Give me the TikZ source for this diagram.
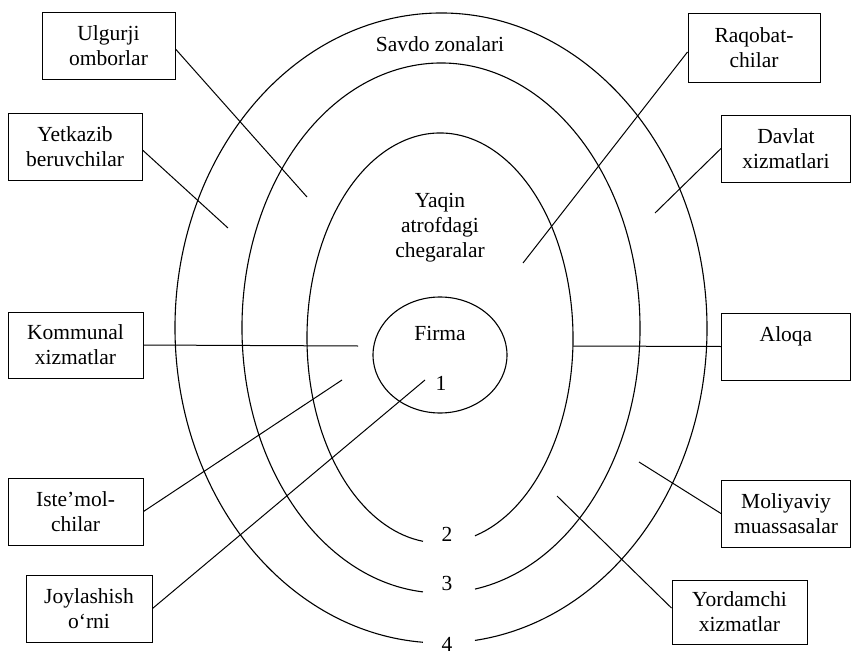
\documentclass[tikz,border=0pt]{standalone}
\usepackage{fontspec}
\setmainfont{Liberation Serif}
\usetikzlibrary{shapes.geometric}
\begin{document}
\begin{tikzpicture}[x=1pt,y=-1pt,
  txt/.style={font=\fontsize{21.5}{25}\selectfont},
  box/.style={draw, line width=1pt, minimum width=#1, minimum height=67pt,
    inner sep=0pt, align=center, txt},
  box/.default=134pt,
  lbl/.style={txt, align=center, inner sep=0pt},
  conn/.style={line width=1pt},
  ring/.style={line width=1.1pt}]
\useasboundingbox (0,0) rectangle (852,653);

% rings (zones)
\draw[ring] (441,328) ++(-82.66:266pt and 315pt)
  arc[start angle=-82.66, end angle=266.1, x radius=266pt, y radius=315pt];
\draw[ring] (441,328) ++(-80.16:199pt and 265pt)
  arc[start angle=-80.16, end angle=264.8, x radius=199pt, y radius=265pt];
\draw[ring] (440,338) ++(-74.74:133pt and 205pt)
  arc[start angle=-74.74, end angle=262.66, x radius=133pt, y radius=205pt];
\node[draw, ellipse, line width=1.1pt, minimum width=134pt, minimum height=116pt,
  inner sep=0pt] (firma) at (440,355) {};

% labels inside
\node[lbl] (savdo) at (440,44) {Savdo zonalari};
\node[lbl] (yaqin) at (440,227.5) {Yaqin\\atrofdagi\\chegaralar};
\node[lbl, anchor=base] (firmat) at (440,340) {Firma};
\node[lbl, anchor=base] (n1) at (441,390) {1};
\node[lbl, anchor=base] (n2) at (447,541) {2};
\node[lbl, anchor=base] (n3) at (447,590) {3};
\node[lbl, anchor=base] (n4) at (447,651) {4};

% boxes left
\node[box=133pt] (ulg) at (108.5,45.5) {Ulgurji\\omborlar};
\node[box=134pt] (yet) at (75,146.5) {Yetkazib\\beruvchilar};
\node[box=135pt, minimum height=66pt] (kom) at (75.5,345) {Kommunal\\xizmatlar};
\node[box=135pt] (ist) at (75.5,511.5) {Iste’mol-\\chilar};
\node[box=126pt] (joy) at (89,608.5) {Joylashish\\o‘rni};
% boxes right
\node[box=132pt, minimum height=69pt] (raq) at (754,47.5) {Raqobat-\\chilar};
\node[box=129pt] (dav) at (786,148.5) {Davlat\\xizmatlari};
\node[box=129pt] (alo) at (786,346.5) {Aloqa\\\phantom{x}};
\node[box=129pt] (mol) at (786,513.5) {Moliyaviy\\muassasalar};
\node[box=135pt, minimum height=64pt] (yor) at (739.5,612) {Yordamchi\\xizmatlar};

% inner ends of connectors
\coordinate (eulg) at (307,197);
\coordinate (eyet) at (228,228);
\coordinate (ekom) at (358,346);
\coordinate (eist) at (342,380);
\coordinate (ejoy) at (425,380);
\coordinate (eraq) at (523,263);
\coordinate (edav) at (655,213);
\coordinate (ealo) at (573,346);
\coordinate (emol) at (639,462);
\coordinate (eyor) at (557,496);

\draw[conn] ([yshift=-3.5pt]ulg.east) -- (eulg);
\draw[conn] ([yshift=-3.5pt]yet.east) -- (eyet);
\draw[conn] (kom.east) -- (ekom);
\draw[conn] (ist.east) -- (eist);
\draw[conn] (joy.east) -- (ejoy);
\draw[conn] ([yshift=-4.5pt]raq.west) -- (eraq);
\draw[conn] (dav.west) -- (edav);
\draw[conn] (alo.west) -- (ealo);
\draw[conn] (mol.west) -- (emol);
\draw[conn] ([yshift=4pt]yor.west) -- (eyor);
\end{tikzpicture}
\end{document}
